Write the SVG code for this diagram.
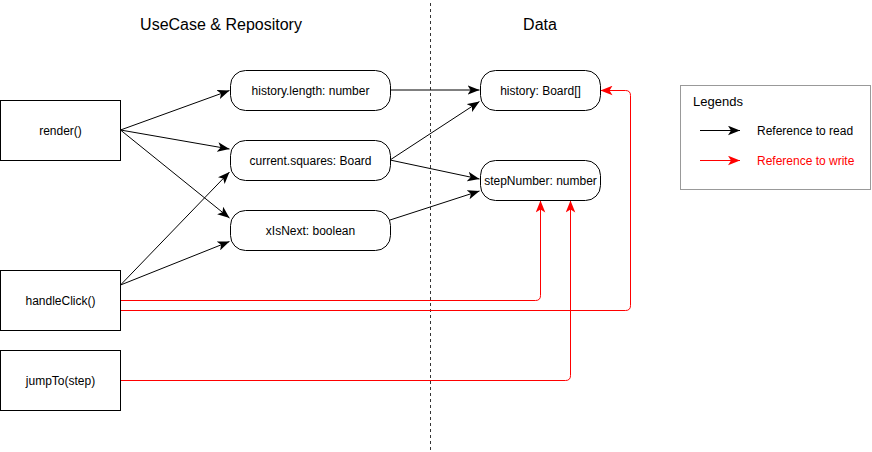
<svg xmlns="http://www.w3.org/2000/svg" width="872" height="452" viewBox="0 0 872 452">
<style>
text{font-family:"Liberation Sans",Arial,Helvetica,sans-serif;font-size:12px;fill:#000;text-anchor:middle;dominant-baseline:central}
.title{font-size:16px}
.box{fill:#fff;stroke:#000;stroke-width:1}
.rbox{fill:#fff;stroke:#000;stroke-width:1}
.read{fill:none;stroke:#000;stroke-width:1;marker-end:url(#ab)}
.write{fill:none;stroke:#ff0000;stroke-width:1;marker-end:url(#ar)}
</style>
<defs>
<marker id="ab" markerUnits="userSpaceOnUse" markerWidth="12" markerHeight="10" viewBox="0 0 10 8" refX="10" refY="4" orient="auto">
<path d="M0,0 L10,4 L0,8 L2.5,4 z" fill="#000"/>
</marker>
<marker id="ar" markerUnits="userSpaceOnUse" markerWidth="12" markerHeight="10" viewBox="0 0 10 8" refX="10" refY="4" orient="auto">
<path d="M0,0 L10,4 L0,8 L2.5,4 z" fill="#ff0000"/>
</marker>
</defs>
<rect width="872" height="452" fill="#fff"/>
<g id="titles">
<text class="title" x="221" y="24">UseCase &amp; Repository</text>
<text class="title" x="540" y="24">Data</text>
</g>
<line id="divider" x1="430.5" y1="3" x2="430.5" y2="452" stroke="#333" stroke-dasharray="3 3"/>
<g id="connectors">
<path class="read" d="M120.5,130 L229.5,90.5"/>
<path class="read" d="M120.5,130 L229.5,149"/>
<path class="read" d="M120.5,130 L229.5,218"/>
<path class="read" d="M120.5,285 L229.5,172"/>
<path class="read" d="M120.5,285 L229.5,241.5"/>
<path class="read" d="M390,90 L479.5,90"/>
<path class="read" d="M390,160 L479.5,101.5"/>
<path class="read" d="M390,160 L479.5,179"/>
<path class="read" d="M390,220 L479.5,191"/>
<path class="write" d="M120.5,300.5 L535.5,300.5 Q540.5,300.5 540.5,295.5 L540.5,200.5"/>
<path class="write" d="M120.5,310.5 L625.5,310.5 Q630.5,310.5 630.5,305.5 L630.5,95.5 Q630.5,90.5 625.5,90.5 L600.5,90.5"/>
<path class="write" d="M120.5,380.5 L565.5,380.5 Q570.5,380.5 570.5,375.5 L570.5,200.5"/>
</g>
<g id="render"><rect class="box" x="0.5" y="100.5" width="120" height="60"/><text x="60.5" y="130.5">render()</text></g>
<g id="handleClick"><rect class="box" x="0.5" y="270.5" width="120" height="60"/><text x="60.5" y="300.5">handleClick()</text></g>
<g id="jumpTo"><rect class="box" x="0.5" y="350.5" width="120" height="60"/><text x="60.5" y="380.5">jumpTo(step)</text></g>
<g id="historyLength"><rect class="rbox" x="230.5" y="70.5" width="160" height="40" rx="15"/><text x="310.5" y="90.5">history.length: number</text></g>
<g id="currentSquares"><rect class="rbox" x="230.5" y="140.5" width="160" height="40" rx="15"/><text x="310.5" y="160.5">current.squares: Board</text></g>
<g id="xIsNext"><rect class="rbox" x="230.5" y="210.5" width="160" height="40" rx="15"/><text x="310.5" y="230.5">xIsNext: boolean</text></g>
<g id="history"><rect class="rbox" x="480.5" y="70.5" width="120" height="40" rx="15"/><text x="540.5" y="90.5">history: Board[]</text></g>
<g id="stepNumber"><rect class="rbox" x="480.5" y="160.5" width="120" height="40" rx="15"/><text x="540.5" y="180.5">stepNumber: number</text></g>
<g id="legend">
<rect x="680.5" y="85.5" width="190" height="104" fill="#fff" stroke="#999"/>
<text x="693" y="101" style="text-anchor:start;font-size:13px">Legends</text>
<path d="M700,130.5 L740,130.5" fill="none" stroke="#000" marker-end="url(#ab)"/>
<text x="757" y="130.5" style="text-anchor:start">Reference to read</text>
<path d="M700,160.5 L740,160.5" fill="none" stroke="#ff0000" marker-end="url(#ar)"/>
<text x="757" y="160.5" style="text-anchor:start;fill:#ff0000">Reference to write</text>
</g>
</svg>
